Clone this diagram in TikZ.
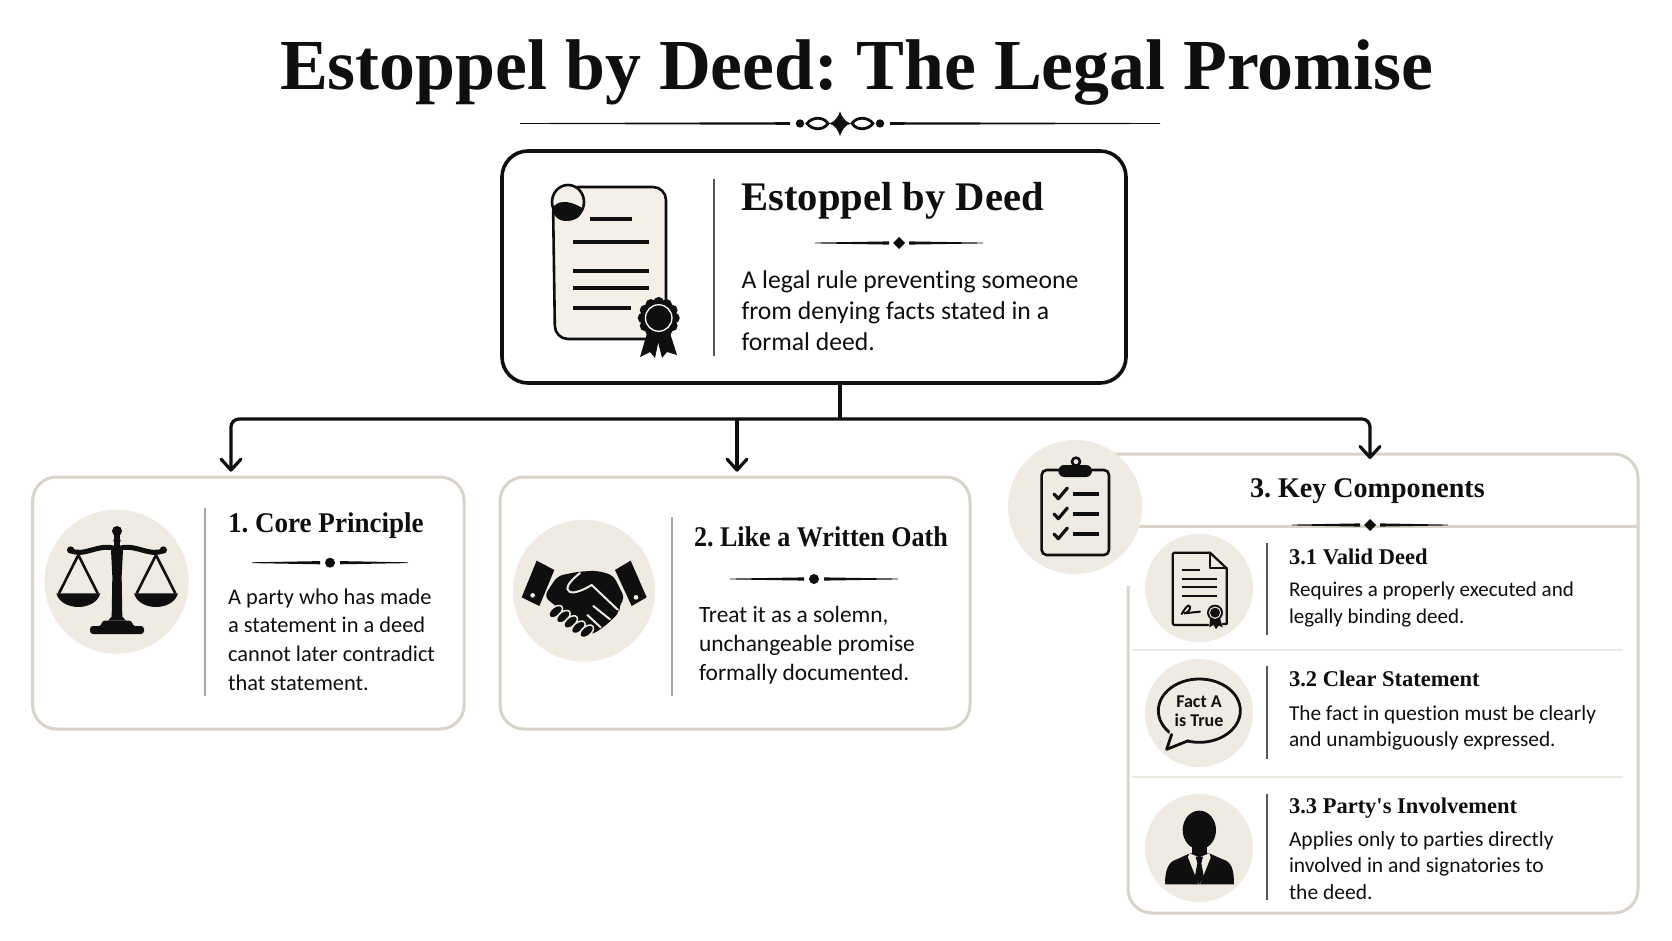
\documentclass[tikz,border=0pt]{standalone}
\usepackage{fontspec}
\setmainfont{Liberation Serif}
\setsansfont{Carlito}[Ligatures=NoCommon]
\usetikzlibrary{arrows.meta,calc}
\definecolor{ink}{HTML}{0F0F0F}
\definecolor{cardline}{HTML}{DAD4C8}
\definecolor{sepline}{HTML}{ECE8E1}
\definecolor{disc}{HTML}{EFEBE3}
\definecolor{paper}{HTML}{F4EFE7}
\definecolor{vgray}{HTML}{A6A6A6}
\definecolor{vdark}{HTML}{555555}
\newcommand\lyn[1]{\hbox{#1}}
\newcommand\fs[2]{\fontsize{#1}{#2}\selectfont}
\newcommand\squeeze[1]{\addfontfeature{FakeStretch=#1}}
% tapered ornament: cx, y, half width, gap
\newcommand\ornrules[4]{%
  \fill[ink] (#1-#3,#2-.4) -- (#1-#4,#2-1.6) -- (#1-#4,#2+1.6) -- (#1-#3,#2+.4) -- cycle;
  \fill[ink] (#1+#3,#2-.4) -- (#1+#4,#2-1.6) -- (#1+#4,#2+1.6) -- (#1+#3,#2+.4) -- cycle;}
\newcommand\orndiam[3]{\ornrules{#1}{#2}{#3}{10}
  \fill[ink] (#1-6,#2) -- (#1,#2-6) -- (#1+6,#2) -- (#1,#2+6) -- cycle;}
\newcommand\orndot[3]{\ornrules{#1}{#2}{#3}{10}
  \fill[ink] (#1,#2) circle (5pt);}
\newcommand\sealicon[3]{%
  \foreach \a in {0,30,...,330} \fill[ink] (#1,#2) ++(\a:{#3*0.80}) circle ({#3*0.28 pt});
  \fill[ink] (#1,#2) circle ({#3*0.85 pt});
  \draw[white,line width=1.3pt] (#1,#2) circle ({#3*0.68 pt});}
\tikzset{
  cardbox/.style={draw=cardline,line width=3pt,rounded corners=24pt,fill=white,inner sep=0pt,outer sep=0pt},
  mainbox/.style={draw=ink,line width=3.6pt,rounded corners=26pt,fill=white,inner sep=0pt,outer sep=0pt},
  disk/.style={fill=disc},
  lbl/.style={anchor=base west,inner sep=0pt,outer sep=0pt,text=ink},
  conn/.style={draw=ink,line width=3.2pt},
  connarrow/.style={conn,rounded corners=8pt,-{Straight Barb[length=11pt,width=20pt,line width=3.2pt,round]}},
  iconline/.style={draw=ink,line width=2.6pt,line cap=round,line join=round},
}
\begin{document}
\frenchspacing
\begin{tikzpicture}[x=1pt,y=-1pt]
\useasboundingbox (0,0) rectangle (1672,941);
\fill[white] (0,0) rectangle (1672,941);

% title
\node[lbl,font=\fs{71.8}{80}\bfseries] (title) at (280,90) {Estoppel by Deed: The Legal Promise};
% title ornament
\fill[ink] (520,123.1) -- (790,122.2) -- (790,124.8) -- (520,123.9) -- cycle;
\fill[ink] (1160,123.1) -- (890,122.2) -- (890,124.8) -- (1160,123.9) -- cycle;
\fill[ink] (829,123.5) .. controls (835,122) and (838,117) .. (840,111.5) .. controls (842,117) and (845,122) .. (851,123.5) .. controls (845,125) and (842,130) .. (840,136) .. controls (838,130) and (835,125) .. (829,123.5) -- cycle;
\foreach \s in {-1,1}{
  \draw[ink,line width=2.8pt] (840+\s*12,123.5) .. controls (840+\s*17,116) and (840+\s*28,117) .. (840+\s*33,123.5) .. controls (840+\s*28,130) and (840+\s*17,131) .. (840+\s*12,123.5) -- cycle;
  \fill[ink] (840+\s*40,123.5) circle (4.2pt);
}

% main box
\node[mainbox,minimum width=624pt,minimum height=232pt] (main) at (814,267) {};
\draw[vdark,line width=1.6pt] (714,179) -- (714,356);
\node[lbl,font=\fs{40.6}{46}\bfseries] (maintitle) at (741.5,211) {Estoppel by Deed};
\orndiam{899}{243}{84}
\node[lbl,font=\sffamily\fs{25.7}{31.2}] (maindesc) at (741.5,288) {\vtop{\lyn{A legal rule preventing someone}\lyn{from denying facts stated in a}\lyn{formal deed.}}};

% scroll icon
\draw[iconline,fill=paper,rounded corners=13pt] (553,200) -- (555,339) -- (666,339) -- (666,187) -- (566,187) -- cycle;
\draw[iconline,fill=paper] (568,202) ellipse (16pt and 17pt);
\fill[ink] (553,208) .. controls (556,201) and (568,199) .. (582,208) .. controls (583,218) and (573,221) .. (566,221) .. controls (558,221) and (552,215) .. (553,208) -- cycle;
\foreach \xa/\xb/\yy in {590/632/219,573/649/241.7,573/649/271,573/649/288,573/631/308}
  \draw[ink,line width=4pt] (\xa,\yy) -- (\xb,\yy);
\fill[ink] (648,330) -- (640,357) -- (650,352) -- (655,358) -- (660,334) -- cycle;
\fill[ink] (669,330) -- (677,355) -- (667,352) -- (662,358) -- (656,334) -- cycle;
\sealicon{658.7}{318}{19.5}

% cards
\node[cardbox,minimum width=431.5pt,minimum height=252pt] (c1) at (248.35,603) {};
\node[cardbox,minimum width=470pt,minimum height=252pt] (c2) at (735,603) {};
\node[inner sep=0pt,outer sep=0pt,minimum width=510pt,minimum height=459pt] (c3) at (1383,683.5) {};
\draw[draw=cardline,line width=3pt,rounded corners=24pt] (1105,454) -- (c3.north east) -- (c3.south east) -- (c3.south west) -- (1128,586);
\draw[draw=cardline,line width=3pt] (1135,526) -- (1638,526);

% connectors
\coordinate (hub) at (840,419);
\coordinate (t1) at ($(c1.north)+(-17.35,-5.3)$);
\coordinate (t2) at ($(c2.north)+(2,-5.3)$);
\coordinate (t3) at ($(c3.north)+(-13,5)$);
\draw[conn] (main.south -| hub) -- (hub);
\draw[connarrow] (hub) -| (t1);
\draw[connarrow] (hub -| t2) -- (t2);
\draw[connarrow] (hub) -| (t3);

% card 1
\fill[disk] (116.7,581.7) circle (72pt);
\draw[vgray,line width=1.6pt] (205,508) -- (205,696);
\node[lbl,font=\fs{28.5}{33}\bfseries\squeeze{0.95}] (c1t) at (228,532.7) {1. Core Principle};
\orndot{330}{562.7}{78}
\node[lbl,font=\sffamily\fs{22.4}{28.7}] (c1d) at (228,604) {\vtop{\lyn{A party who has made}\lyn{a statement in a deed}\lyn{cannot later contradict}\lyn{that statement.}}};
\begin{scope}[shift={(20,460)},scale=1/3]
  \fill[ink] (291,213) circle (15pt);
  \fill[ink] (291,242) circle (11pt);
  \fill[ink] (281,215) rectangle (301,275);
  \draw[ink,line width=5pt,line cap=round] (150,270) .. controls (190,295) and (240,245) .. (291,268) .. controls (340,245) and (392,295) .. (432,270);
  \fill[ink] (152,270) circle (11pt);
  \fill[ink] (430,270) circle (11pt);
  \fill[ink] (273,270) -- (309,270) -- (305,350) -- (307,470) -- (318,482) -- (264,482) -- (275,470) -- (277,350) -- cycle;
  \fill[ink,rounded corners=3pt] (245,482) -- (337,482) -- (337,498) -- (372,498) -- (372,522) -- (210,522) -- (210,498) -- (245,498) -- cycle;
  \foreach \cx in {175,408}{
    \draw[ink,line width=2.6pt,line join=round] (\cx-58,400) -- (\cx,285) -- (\cx+58,400);
    \fill[ink] (\cx-66,400) -- (\cx+66,400) .. controls (\cx+58,430) and (\cx+25,441) .. (\cx,441) .. controls (\cx-25,441) and (\cx-58,430) .. (\cx-66,400) -- cycle;
  }
\end{scope}

% card 2
\fill[disk] (584,590.7) circle (71pt);
\draw[vgray,line width=1.6pt] (672,517) -- (672,696);
\node[lbl,font=\fs{28.5}{33}\bfseries\squeeze{0.915}] (c2t) at (694,546) {2. Like a Written Oath};
\orndot{814}{579}{84}
\node[lbl,font=\sffamily\fs{23.4}{28.7}] (c2d) at (699,622.7) {\vtop{\lyn{Treat it as a solemn,}\lyn{unchangeable promise}\lyn{formally documented.}}};
\begin{scope}[shift={(510,540)},scale=1/3]
  \fill[ink] (80,62) -- (133,90) -- (88,198) -- (35,172) -- cycle;
  \fill[ink] (362,62) -- (315,90) -- (365,198) -- (410,172) -- cycle;
  \fill[disc] (68,166) circle (7pt);
  \fill[disc] (378,172) circle (7pt);
  \fill[ink,rounded corners=6pt] (102,170) -- (142,108) -- (205,95) -- (262,92) -- (310,106) -- (345,176) -- (325,198) -- (330,215) -- (305,240) -- (280,262) -- (250,282) -- (225,285) -- (180,240) -- (140,200) -- cycle;
  \draw[disc,line width=2pt,line cap=round,line join=round] (210,99) .. controls (190,115) and (170,135) .. (172,147) .. controls (176,162) and (200,162) .. (245,135) -- (322,208);
  \draw[disc,line width=2pt,line cap=round] (250,198) -- (300,238);
  \draw[disc,line width=2pt,line cap=round] (232,225) -- (272,262);
  \foreach \cx/\cy in {137/215,160/230,182/246,205/262,230/274}
    \draw[disc,line width=1.5pt,fill=ink,rotate around={40:(\cx,\cy)}] (\cx,\cy) ellipse (24pt and 14pt);
\end{scope}

% card 3 header
\fill[disk] (1075,507) circle (67pt);
\node[lbl,font=\fs{28.5}{33}\bfseries\squeeze{0.985}] (c3t) at (1250,497) {3. Key Components};
\ornrules{1370}{525}{78}{10}
\fill[ink] (1364,525) -- (1370,519) -- (1376,525) -- (1370,531) -- cycle;
\begin{scope}[shift={(1000,430)},scale=1/3]
  \draw[iconline,rounded corners=5pt] (175,120) -- (125,120) -- (125,375) -- (327,375) -- (327,120) -- (275,120);
  \fill[ink,rounded corners=6pt] (175,105) rectangle (276,141);
  \draw[ink,line width=2.6pt] (228,95) circle (12pt);
  \foreach \yy in {192,252,312}{
    \draw[ink,line width=3.2pt,line cap=round,line join=round] (162,\yy) -- (175,\yy+14) -- (202,\yy-18);
    \draw[ink,line width=3.2pt] (218,\yy) -- (296,\yy);
  }
\end{scope}

% sub 3.1
\fill[disk] (1199,588) circle (54pt);
\draw[vdark,line width=1.5pt] (1267,543) -- (1267,635);
\node[lbl,font=\fs{22.5}{26}\bfseries] (s1t) at (1289,564) {3.1 Valid Deed};
\node[lbl,font=\sffamily\fs{21}{26.8}] (s1d) at (1289,596.7) {\vtop{\lyn{Requires a properly executed and}\lyn{legally binding deed.}}};
\begin{scope}[shift={(1000,430)},scale=1/3]
  \draw[iconline,line width=2.2pt,rounded corners=2pt] (630,368) -- (518,368) -- (518,585) -- (625,585);
  \draw[iconline,line width=2.2pt] (630,368) -- (680,415) -- (680,582) -- (668,582);
  \draw[iconline,line width=2.2pt] (630,368) -- (630,415) -- (680,415);
  \foreach \xa/\xb/\yy in {545/600/420,545/652/447,545/652/472,545/652/497}
    \draw[ink,line width=2.2pt] (\xa,\yy) -- (\xb,\yy);
  \draw[ink,line width=2pt,line cap=round] (545,552) .. controls (555,535) and (565,520) .. (570,530) .. controls (572,540) and (560,550) .. (552,550) -- (600,545);
  \fill[ink] (630,565) -- (628,592) -- (640,585) -- (648,597) -- (655,570) -- cycle;
  \fill[ink] (660,565) -- (668,592) -- (656,587) -- (648,597) -- (640,570) -- cycle;
  \fill[ink] (645,548) circle (24pt);
  \draw[disc,line width=1pt] (645,548) circle (17pt);
\end{scope}
\draw[sepline,line width=2pt] (1132,650) -- (1623,650);

% sub 3.2
\fill[disk] (1199,713) circle (54pt);
\draw[vdark,line width=1.5pt] (1267,666) -- (1267,759);
\node[lbl,font=\fs{22.5}{26}\bfseries] (s2t) at (1289,686) {3.2 Clear Statement};
\node[lbl,font=\sffamily\fs{21.3}{26.8}] (s2d) at (1289,720) {\vtop{\lyn{The fact in question must be clearly}\lyn{and unambiguously expressed.}}};
\begin{scope}[shift={(1120,640)},scale=1/3]
  \draw[ink,line width=2.8pt,fill=disc] (238,212) ellipse (123pt and 95pt);
  \fill[disc] (150,270) -- (140,328) -- (205,300) -- (190,280) -- cycle;
  \draw[ink,line width=2.8pt,line join=round,line cap=round] (155,283) -- (140,328) -- (205,302);
\end{scope}
\node[inner sep=0pt,outer sep=0pt,text=ink,font=\sffamily\bfseries\fs{18}{19},align=center] (s2f) at (1199,711.5) {Fact A\\is True};
\draw[sepline,line width=2pt] (1132,777) -- (1623,777);

% sub 3.3
\fill[disk] (1199,848) circle (54pt);
\draw[vdark,line width=1.5pt] (1267,794) -- (1267,900);
\node[lbl,font=\fs{22.5}{26}\bfseries] (s3t) at (1289,813) {3.3 Party\textquotesingle s Involvement};
\node[lbl,font=\sffamily\fs{21.5}{26.6}] (s3d) at (1289,846) {\vtop{\lyn{Applies only to parties directly}\lyn{involved in and signatories to}\lyn{the deed.}}};
\begin{scope}[shift={(1120,640)},scale=1/3]
  \fill[ink] (238,570) ellipse (50pt and 58pt);
  \fill[ink] (215,610) rectangle (262,650);
  \fill[ink] (135,733) .. controls (135,690) and (145,665) .. (170,658) -- (210,640) -- (268,640) -- (308,658) .. controls (335,665) and (342,690) .. (342,733) -- cycle;
  \fill[disc] (208,640) -- (238,652) -- (268,640) -- (272,652) -- (240,733) -- (236,733) -- (204,652) -- cycle;
  \fill[ink] (227,650) -- (249,650) -- (244,670) -- (252,712) -- (238,733) -- (224,712) -- (232,670) -- cycle;
\end{scope}
\end{tikzpicture}
\end{document}
